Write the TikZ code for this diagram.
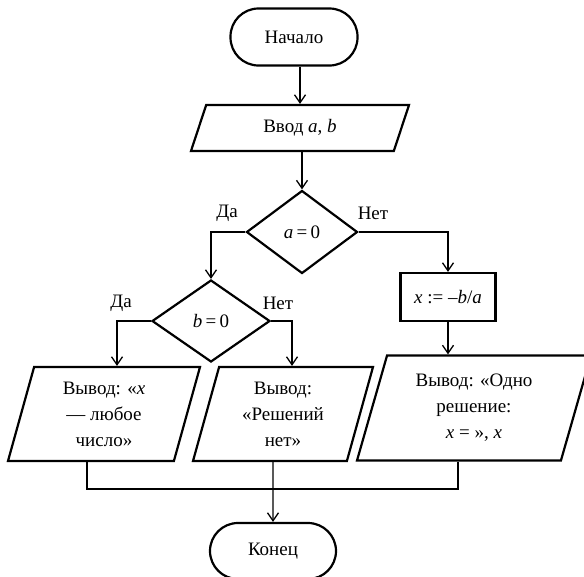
\documentclass[tikz,border=0pt]{standalone}
\usepackage{fontspec}
\setmainfont{Liberation Serif}
\usetikzlibrary{shapes.geometric,arrows.meta}

\tikzset{
    txt/.style={font=\fontsize{19}{26}\selectfont},
    blk/.style={txt, draw, line width=2.2pt, align=center, inner sep=0pt, fill=white},
    term/.style={blk, rectangle, rounded corners=28pt, minimum width=127pt, minimum height=57pt},
    io/.style 2 args={blk, trapezium, trapezium stretches body, trapezium left angle=#1, trapezium right angle=#2},
    cond/.style={blk, diamond},
    proc/.style={blk, rectangle},
    line/.style={line width=1.3pt},
    arr/.style={line, -{Straight Barb[length=8pt,width=11pt]}},
}

\begin{document}
\begin{tikzpicture}[x=1pt,y=-1pt]
    \useasboundingbox (0,0) rectangle (584,576);
    \draw
    (294,37)node(start)[term]{Начало}
    (300,128)node(in)[io={48}{132}, minimum width=218pt, minimum height=46pt]{Ввод \textit{a}, \textit{b}}
    (302,232)node(a0)[cond, minimum width=111pt, minimum height=83pt]{\textit{a}\,=\,0}
    (211,321)node(b0)[cond, minimum width=118pt, minimum height=82pt]{\textit{b}\,=\,0}
    (448,297)node(x)[proc, minimum width=95pt, minimum height=48pt]{\textit{x} := –\textit{b}/\textit{a}}
    (104,414)node(out1)[io={68}{112}, minimum width=192pt, minimum height=94pt]{Вывод: «\textit{x}\\— любое\\число»}
    (283,414)node(out2)[io={68}{112}, minimum width=180pt, minimum height=94pt]{Вывод:\\«Решений\\нет»}
    (474,408)node(out3)[io={66}{114}, minimum width=234pt, minimum height=105pt]{Вывод: «Одно\\решение:\\\textit{x} = », \textit{x}}
    (273,551)node(end)[term, minimum width=126pt, minimum height=56pt]{Конец};
    %
    \draw
    (227,213)node(yes1)[txt]{Да}
    (373,213)node(no1)[txt]{Нет}
    (121,303)node(yes2)[txt]{Да}
    (278,303)node(no2)[txt]{Нет};
    %
    \draw[arr] (start.south -| in.north) -- (in.north);
    \draw[arr] (in.south -| a0.north) -- (a0.north);
    \draw[arr] (a0.west) -| (b0.north);
    \draw[arr] (a0.east) -| (x.north);
    \draw[arr] (b0.west) -| ([xshift=13pt]out1.north);
    \draw[arr] (b0.east) -| ([xshift=9pt]out2.north);
    \draw[arr] (x.south) -- (x.south |- out3.north);
    \draw[line] ([xshift=-17pt]out1.south) -- ++(0,27) -| ([xshift=-16pt]out3.south);
    \draw[arr] ([xshift=-10pt]out2.south) -- (end.north);
\end{tikzpicture}
\end{document}
